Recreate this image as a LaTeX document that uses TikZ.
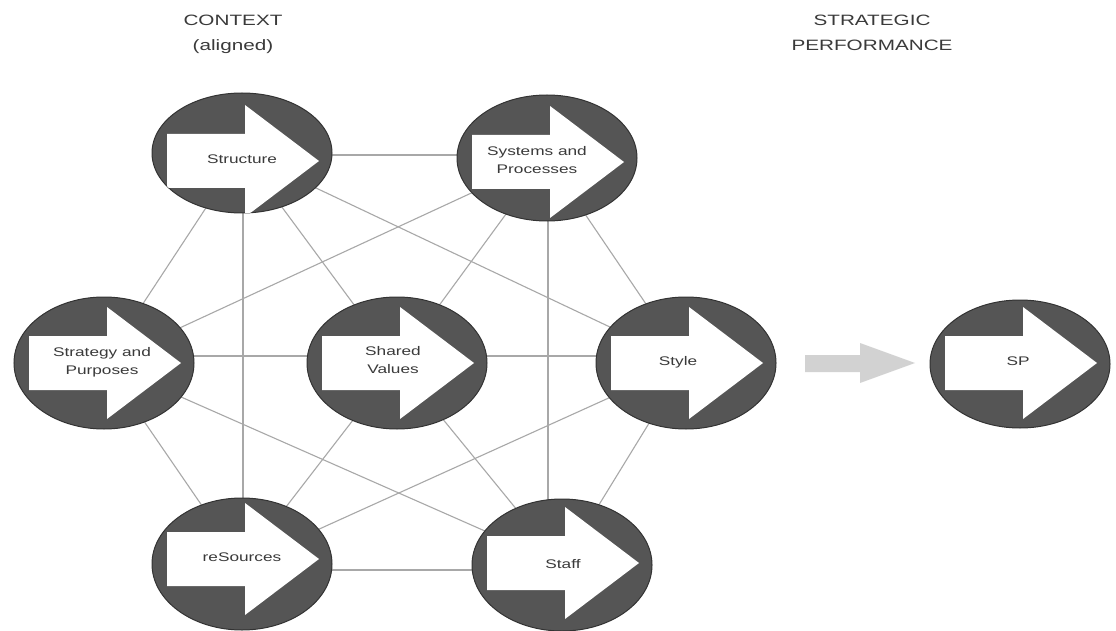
\documentclass[tikz,border=0pt]{standalone}
\usepackage{fontspec}
\setmainfont{Liberation Sans}
\usetikzlibrary{shapes.geometric,backgrounds}
\definecolor{ellfill}{HTML}{555555}
\definecolor{ellborder}{HTML}{333333}
\definecolor{linkgray}{HTML}{A8A8A8}
\definecolor{txtgray}{HTML}{3A3A3A}
\definecolor{bigarrow}{HTML}{D2D2D2}
\newcommand\wtext[1]{\scalebox{1.38}[1]{\begin{tabular}{@{}c@{}}#1\end{tabular}}}
% name, cx, cy, ry, arrow axis y, text x, text y, text
\newcommand\ctxnode[8]{%
  \node[ctxell, minimum height=#4*2pt] (#1) at (#2,#3) {};
  \begin{scope}
    \clip (#2,#3) ellipse [x radius=90, y radius=#4];
    \begin{scope}[shift={(#2,#5)}]
      \fill[white] (-75,-27) -- (3,-27) -- (3,-56) -- (77,0) -- (3,56) -- (3,27) -- (-75,27) -- cycle;
    \end{scope}
  \end{scope}
  \node[lbl] (#1-t) at (#6,#7) {\wtext{#8}};
}
\tikzset{
  ctxell/.style={ellipse, fill=ellfill, draw=ellborder, line width=1pt, inner sep=0pt, minimum width=180pt},
  link/.style={draw=linkgray, line width=1.1pt},
  lbl/.style={text=txtgray, font=\fontsize{12.5}{18}\selectfont, inner sep=0pt},
  head/.style={text=txtgray, font=\fontsize{15}{25}\selectfont, inner sep=0pt},
}
\begin{document}
\begin{tikzpicture}[x=1pt,y=-1pt]
\useasboundingbox (0,0) rectangle (1116,631);

\node[head] (hctx) at (233,33) {\wtext{CONTEXT\\(aligned)}};
\node[head] (hsp) at (872,33) {\wtext{STRATEGIC\\PERFORMANCE}};

\ctxnode{A}{242}{153}{60}{161}{242}{160}{Structure}
\ctxnode{B}{547}{158}{63}{162}{537}{161}{Systems and\\Processes}
\ctxnode{C}{104}{363}{66}{363}{102}{362}{Strategy and\\Purposes}
\ctxnode{D}{397}{363}{66}{363}{393}{361}{Shared\\Values}
\ctxnode{E}{686}{363}{66}{363}{678}{362}{Style}
\ctxnode{F}{242}{564}{66}{559}{242}{558}{reSources}
\ctxnode{G}{562}{565}{66}{563}{563}{565}{Staff}
\ctxnode{SP}{1020}{364}{64}{363}{1018}{362}{SP}

\begin{scope}[on background layer]
  \fill[white] (0,0) rectangle (1116,631);
  \foreach \a/\b in {A/C,A/D,A/E,B/C,B/D,B/E,C/F,C/G,D/F,D/G,E/F,E/G}
    \draw[link] (\a.center) -- (\b.center);
  \draw[link] ([yshift=-2pt]A.center) -- ([yshift=3pt]B.center);
  \draw[link] ([xshift=1pt]A.center) -- ([xshift=1pt]F.center);
  \draw[link] ([xshift=1pt]B.center) -- ([xshift=-14pt]G.center);
  \draw[link] ([yshift=7pt]C.center) -- ([yshift=7pt]D.center);
  \draw[link] ([yshift=7pt]D.center) -- ([yshift=7pt]E.center);
  \draw[link] ([yshift=-6pt]F.center) -- ([yshift=-5pt]G.center);
\end{scope}

\fill[bigarrow] (805,355) -- (860,355) -- (860,343) -- (915,363) -- (860,383) -- (860,372) -- (805,372) -- cycle;
\end{tikzpicture}
\end{document}
